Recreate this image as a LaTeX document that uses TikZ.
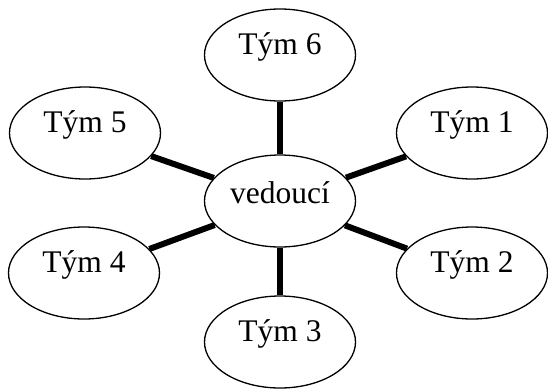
\documentclass[tikz,border=0pt]{standalone}
\usepackage{fontspec}
\setmainfont{Liberation Serif}
\usetikzlibrary{shapes.geometric}
\tikzset{
  team/.style={ellipse, draw=black, line width=1.3pt, fill=white,
    minimum width=151pt, minimum height=92pt, inner sep=0pt},
  lbl/.style={font=\fontsize{31.5}{31.5}\selectfont, yshift=8pt},
  link/.style={line width=6pt, black}
}
\begin{document}
\begin{tikzpicture}[x=1pt,y=-1pt]
\useasboundingbox (0,0) rectangle (548,389);
\node[team, label={[lbl]center:vedoucí}] (v) at (280,201) {};
\node[team, label={[lbl]center:Tým 6}] (t6) at (280,55) {};
\node[team, label={[lbl]center:Tým 5}] (t5) at (85,133) {};
\node[team, label={[lbl]center:Tým 1}] (t1) at (472,133) {};
\node[team, label={[lbl]center:Tým 4}] (t4) at (84,273) {};
\node[team, label={[lbl]center:Tým 2}] (t2) at (472,273) {};
\node[team, label={[lbl]center:Tým 3}] (t3) at (280,342) {};
\draw[link] (v) -- (t6);
\draw[link] (v) -- (t5);
\draw[link] (v) -- (t1);
\draw[link] (v) -- (t4);
\draw[link] (v) -- (t2);
\draw[link] (v) -- (t3);
\end{tikzpicture}
\end{document}
